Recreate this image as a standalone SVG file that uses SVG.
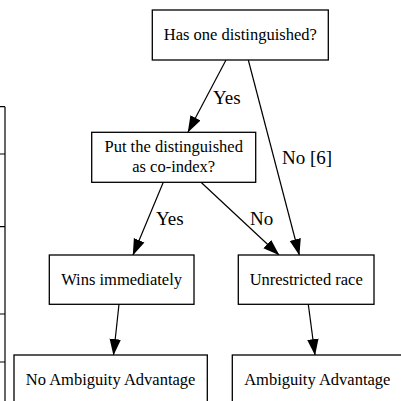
<svg xmlns="http://www.w3.org/2000/svg" width="401" height="401" viewBox="0 0 401 401">
<defs>
<style>
.box{fill:#fff;stroke:#000;stroke-width:1.3}
.t{font-family:"Liberation Serif","Times New Roman",serif;font-size:16.5px;fill:#000;text-anchor:middle}
.lbl{font-family:"Liberation Serif","Times New Roman",serif;font-size:19px;fill:#000}
.e{stroke:#000;stroke-width:1.2;fill:none;marker-end:url(#ah)}
.tbl{stroke:#000;stroke-width:1.2;fill:none}
</style>
<marker id="ah" markerUnits="userSpaceOnUse" markerWidth="17" markerHeight="13" refX="16" refY="6.5" orient="auto" viewBox="0 0 17 13">
<path d="M0,0.8 L16.5,6.5 L0,12.2 z" fill="#000"/>
</marker>
</defs>
<rect width="401" height="401" fill="#fff"/>
<g id="table-fragment">
<path class="tbl" d="M5,106.7 V401 M0,106.7 H5 M0,154 H5 M0,226.7 H5 M0,314 H5 M0,362 H5"/>
</g>
<g id="connectors">
<line class="e" x1="226" y1="60" x2="188" y2="132"/>
<line class="e" x1="248.3" y1="60" x2="299.3" y2="255"/>
<line class="e" x1="163.3" y1="182.3" x2="133" y2="255"/>
<line class="e" x1="201" y1="182.3" x2="279" y2="255"/>
<line class="e" x1="119" y1="304.3" x2="113.5" y2="355"/>
<line class="e" x1="308.3" y1="304.3" x2="315" y2="355"/>
<text class="lbl" x="213" y="104">Yes</text>
<text class="lbl" x="282" y="164">No [6]</text>
<text class="lbl" x="156" y="225">Yes</text>
<text class="lbl" x="250" y="225">No</text>
</g>
<g id="n1">
<rect class="box" x="152.3" y="10" width="176" height="50"/>
<text class="t" x="240.3" y="40">Has one distinguished?</text>
</g>
<g id="n2">
<rect class="box" x="91.7" y="132.3" width="164" height="50"/>
<text class="t" x="173.7" y="152">Put the distinguished</text>
<text class="t" x="173.7" y="172">as co-index?</text>
</g>
<g id="n3">
<rect class="box" x="49.3" y="255" width="144.7" height="49.3"/>
<text class="t" x="121.6" y="285">Wins immediately</text>
</g>
<g id="n4">
<rect class="box" x="238.3" y="255" width="135.7" height="49.3"/>
<text class="t" x="306.2" y="285">Unrestricted race</text>
</g>
<g id="n5">
<rect class="box" x="14" y="355" width="193.3" height="50"/>
<text class="t" x="110.6" y="385">No Ambiguity Advantage</text>
</g>
<g id="n6">
<rect class="box" x="232.3" y="355" width="170" height="50"/>
<text class="t" x="317.3" y="385">Ambiguity Advantage</text>
</g>
</svg>
